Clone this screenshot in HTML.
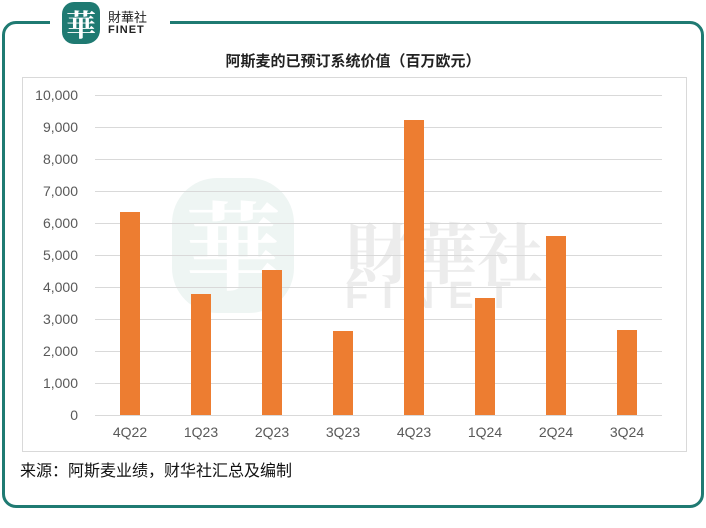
<!DOCTYPE html>
<html><head><meta charset="utf-8"><style>
body{margin:0;width:706px;height:528px;background:#fff;position:relative;overflow:hidden;font-family:"Liberation Sans","Noto Sans CJK SC",sans-serif}
.frame{position:absolute;left:2px;top:21px;width:696px;height:481px;border:3px solid #1f7a72;border-radius:14px}
.gap{position:absolute;left:50px;top:10px;width:120px;height:20px;background:#fff}
.logo{position:absolute;left:62px;top:2px;width:38px;height:42px;background:#1f7a72;border-radius:12px 10px 14px 12px;color:#fff;font:bold 30px "Noto Serif CJK SC",serif;text-align:center;line-height:42px}
.lt{position:absolute;left:108px;top:11px;font-size:13px;color:#222;line-height:14px}
.lt2{position:absolute;left:108px;top:24px;font:bold 11px "Liberation Sans",sans-serif;letter-spacing:1px;color:#222}
.box{position:absolute;left:22px;top:77px;width:663px;height:373px;border:1px solid #d9d9d9}
.title{position:absolute;left:0;width:706px;top:50px;text-align:center;font-size:15px;font-weight:bold;color:#222}
.src{position:absolute;left:20px;top:457px;font-size:16px;color:#111}
</style></head><body>
<div class="frame"></div><div class="gap"></div>
<div class="logo">華</div>
<div class="lt">財華社</div><div class="lt2">FINET</div>
<div class="title">阿斯麦的已预订系统价值（百万欧元）</div>
<div class="box"></div>
<svg width="706" height="528" style="position:absolute;left:0;top:0">
<g font-family="Liberation Sans,sans-serif" font-size="60" fill="#ececec" font-weight="bold">
<text x="345" y="278" font-family="Noto Serif CJK SC,serif" font-size="66">財華社</text>
<text x="345" y="308" font-size="38" letter-spacing="14">FINET</text>
<rect x="172" y="178" width="122" height="135" rx="45" fill="#eef5f3"/>
<text x="233" y="282" text-anchor="middle" font-family="Noto Serif CJK SC,serif" font-size="96" fill="#ffffff">華</text>
</g>
<g stroke="#d9d9d9" stroke-width="1">
<line x1="95" x2="662" y1="95.5" y2="95.5"/><line x1="95" x2="662" y1="127.5" y2="127.5"/>
<line x1="95" x2="662" y1="159.5" y2="159.5"/><line x1="95" x2="662" y1="191.5" y2="191.5"/>
<line x1="95" x2="662" y1="223.5" y2="223.5"/><line x1="95" x2="662" y1="255.5" y2="255.5"/>
<line x1="95" x2="662" y1="287.5" y2="287.5"/><line x1="95" x2="662" y1="319.5" y2="319.5"/>
<line x1="95" x2="662" y1="351.5" y2="351.5"/><line x1="95" x2="662" y1="383.5" y2="383.5"/>
<line x1="95" x2="662" y1="415.5" y2="415.5"/>
</g>
<g font-size="14" fill="#595959" text-anchor="end">
<text x="78" y="100">10,000</text><text x="78" y="132">9,000</text><text x="78" y="164">8,000</text>
<text x="78" y="196">7,000</text><text x="78" y="228">6,000</text><text x="78" y="260">5,000</text>
<text x="78" y="292">4,000</text><text x="78" y="324">3,000</text><text x="78" y="356">2,000</text>
<text x="78" y="388">1,000</text><text x="78" y="420">0</text>
</g>
<g fill="#ed7d31">
<rect x="120" y="212" width="20" height="203"/><rect x="191" y="294" width="20" height="121"/>
<rect x="262" y="270" width="20" height="145"/><rect x="333" y="331" width="20" height="84"/>
<rect x="404" y="120" width="20" height="295"/><rect x="475" y="298" width="20" height="117"/>
<rect x="546" y="236" width="20" height="179"/><rect x="617" y="330" width="20" height="85"/>
</g>
<g font-size="14" fill="#595959" text-anchor="middle">
<text x="130" y="437">4Q22</text><text x="201" y="437">1Q23</text><text x="272" y="437">2Q23</text>
<text x="343" y="437">3Q23</text><text x="414" y="437">4Q23</text><text x="485" y="437">1Q24</text>
<text x="556" y="437">2Q24</text><text x="627" y="437">3Q24</text>
</g>
</svg>
<div class="src">来源：阿斯麦业绩，财华社汇总及编制</div>
</body></html>
